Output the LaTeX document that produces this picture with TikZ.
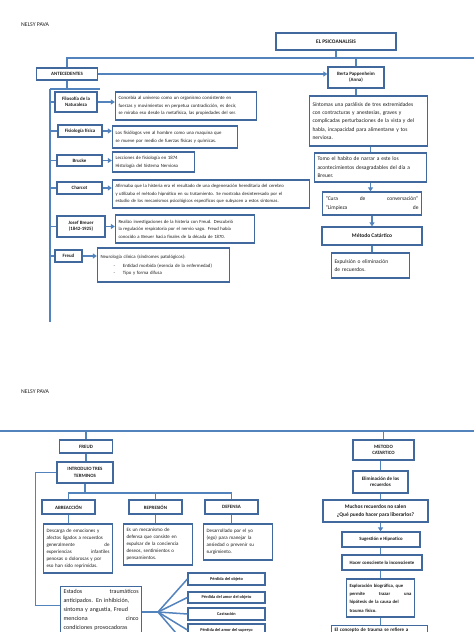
\documentclass[tikz,border=0pt]{standalone}
\usepackage{fontspec}
\setmainfont{Carlito}
\usetikzlibrary{arrows.meta}
\definecolor{bxc}{HTML}{41699E}
\definecolor{lnc}{HTML}{5383BD}
\definecolor{txc}{HTML}{1E1E1E}
\newcommand\jl[1]{\makebox[\hsize][s]{#1}}
\begin{document}
\begin{tikzpicture}[x=1pt,y=-1pt,
  lbox/.style={draw=bxc, line width=1.2pt, fill=white, text=txc,
    font=\fontsize{4.9}{6.2}\selectfont\bfseries, align=center, inner sep=1pt},
  pbox/.style={draw=bxc, line width=1.2pt, fill=white, text=txc, align=left,
    inner xsep=3pt, inner ysep=2pt},
  conn/.style={draw=lnc, line width=1.5pt},
  arr/.style={conn, -{Triangle[width=5pt,length=4pt]}},
  hdr/.style={anchor=west, text=txc, font=\fontsize{5.8}{7}\selectfont, inner sep=0pt}]
\useasboundingbox (0,0) rectangle (474,632);
\fill[white] (0,0) rectangle (474,632);

%================ TOP PAGE =================
\node[hdr] (nelsyA) at (21,25) {NELSY PAVA};

\node[lbox, minimum width=120, minimum height=17, font=\fontsize{5.4}{6.5}\selectfont\bfseries] (psico) at (336,41.5) {EL PSICOANALISIS};
\node[lbox, minimum width=61, minimum height=12] (ante) at (67,74) {ANTECEDENTES};
\node[lbox, minimum width=56, minimum height=21] (berta) at (356,77.5) {Berta Pappenheim\\(Anna)};

\coordinate (topR) at (474,58);
\draw[conn] (psico.south) -- (psico.south |- topR);
\draw[conn] (ante.north) |- (topR);
\draw[conn] (berta.north) -- (berta.north |- topR);
\draw[arr] (ante.east) -- (ante.east -| berta.west);

% left column labels
\node[lbox, minimum width=42, minimum height=20] (filo) at (76,102) {Filosofía de la\\Naturaleza};
\node[lbox, minimum width=44, minimum height=12] (fisio) at (80,131) {Fisiología física};
\node[lbox, minimum width=45, minimum height=11] (brucke) at (79.5,160.5) {Brucke};
\node[lbox, minimum width=45, minimum height=12] (charcot) at (79.5,188) {Charcot};
\node[lbox, minimum width=48, minimum height=21] (breuer) at (81,226.5) {Josef Breuer\\(1842-1925)};
\node[lbox, minimum width=27, minimum height=12] (freudA) at (68.5,256) {Freud};

% trunk
\coordinate (tr1) at (50,89);
\coordinate (stub) at (100,89);
\coordinate (tr2) at (50,322);
\draw[conn] (ante.south) -- (ante.south |- tr1);
\draw[conn] (tr1) -- (stub);
\draw[conn] (tr1) -- (tr2);
\foreach \n in {filo,fisio,brucke,charcot,breuer,freudA}
  \draw[conn] (\n.west -| tr1) -- (\n.west);

% left column texts
\node[pbox, text width=135, minimum height=28, font=\fontsize{4.8}{7.6}\selectfont] (tfilo) at (186,106)
 {\jl{Concebía al universo como un organismo consistente en}\\
  \jl{fuerzas y movimientos en perpetua contradicción, es decir,}\\
  \jl{se miraba eso desde la metafísica, las propiedades del ser.}};
\node[pbox, text width=119, minimum height=22, font=\fontsize{4.8}{7.6}\selectfont] (tfisio) at (175,137)
 {\jl{Los fisiólogos ven al hombre como una maquina que}\\
  se mueve por medio de fuerzas físicas y químicas.};
\node[pbox, text width=76, minimum height=20, font=\fontsize{4.8}{7.6}\selectfont] (tbrucke) at (153.5,162)
 {Lecciones de fisiología en 1874\\Histología del Sistema Nervioso};
\node[pbox, text width=191, minimum height=28, font=\fontsize{4.7}{7.6}\selectfont] (tcharcot) at (211,194)
 {\jl{Afirmaba que la histeria era el resultado de una degeneración hereditaria del cerebro}\\
  \jl{y utilizaba el método hipnótico en su tratamiento. Se mostraba desinteresado por el}\\
  estudio de los mecanismos psicológicos específicos que subyacen a estos síntomas.};
\node[pbox, text width=133, minimum height=28, font=\fontsize{4.7}{7.6}\selectfont] (tbreuer) at (185,229)
 {\jl{Realizo investigaciones de la histeria con Freud. Descubrió}\\
  \jl{la regulación respiratoria por el nervio vago. Freud había}\\
  conocido a Breuer hacia finales de la década de 1870.};
\node[pbox, text width=126, minimum height=34, font=\fontsize{4.8}{7.2}\selectfont] (tfreud) at (163.5,265)
 {Neurología clínica (síndromes patológicos):\\[1.5pt]
  \hspace*{13pt}-\hspace*{8pt}Entidad morbida (esencia de la enfermedad)\\
  \hspace*{13pt}-\hspace*{8pt}Tipo y forma difusa};

\foreach \a/\b in {filo/tfilo,fisio/tfisio,brucke/tbrucke,charcot/tcharcot,breuer/tbreuer,freudA/tfreud}
  \draw[arr] (\a.east) -- (\a.east -| \b.west);

% right column
\node[pbox, text width=112, minimum height=50, font=\fontsize{5.5}{8.4}\selectfont] (sint) at (368.5,121)
 {\jl{Síntomas una parálisis de tres extremidades}\\
  \jl{con contracturas y anestesias, graves y}\\
  \jl{complicadas perturbaciones de la vista y del}\\
  \jl{habla, incapacidad para alimentarse y tos}\\
  nerviosa.};
\node[pbox, text width=106, minimum height=29, font=\fontsize{5.5}{8.4}\selectfont] (tomo) at (370.5,167.5)
 {\jl{Tomo el habito de narrar a este los}\\
  \jl{acontecimientos desagradables del día a}\\
  Breuer.};
\node[pbox, text width=93, minimum height=23, font=\fontsize{5.5}{8.4}\selectfont] (cura) at (372,203.5)
 {“Cura\hfill de\hfill conversación”\\
  “Limpieza\hfill de};
\node[lbox, minimum width=100, minimum height=18, font=\fontsize{5.5}{7}\selectfont\bfseries] (metodo) at (372,236) {Método Catártico};
\node[pbox, text width=72, minimum height=25, font=\fontsize{5.5}{8.4}\selectfont] (expul) at (370.5,265.5)
 {\jl{Expulsión o eliminación}\\
  de recuerdos.};

\draw[conn] (berta.south) -- (berta.south |- sint.north);
\draw[conn] (sint.south -| tomo.north) -- (tomo.north);
\draw[arr] (tomo.south) -- (tomo.south |- cura.north);
\draw[arr] (cura.south) -- (metodo.north);
\draw[conn] (metodo.south) -- (metodo.south |- expul.north);

%================ BOTTOM PAGE =================
\node[hdr] (nelsyB) at (21,392) {NELSY PAVA};
\coordinate (botL) at (0,431);
\coordinate (botR) at (474,431);
\draw[conn] (botL) -- (botR);

\node[lbox, minimum width=53, minimum height=13] (freudB) at (86,446.5) {FREUD};
\node[lbox, minimum width=61, minimum height=20] (metodoB) at (383.5,450) {METODO\\CATARTICO};
\draw[conn] (freudB.north |- botL) -- (freudB.north);
\draw[conn] (metodoB.north |- botL) -- (metodoB.north);

\node[lbox, minimum width=56, minimum height=21] (intro) at (85,472.5) {INTRODUJO TRES\\TERMINOS};
\draw[conn] (freudB.south) -- (freudB.south |- intro.north);

\node[lbox, minimum width=53, minimum height=14] (abre) at (68.5,507) {ABREACCIÓN};
\node[lbox, minimum width=53, minimum height=14] (repre) at (155.5,507) {REPRESIÓN};
\node[lbox, minimum width=53, minimum height=14] (defe) at (231.5,507) {DEFENSA};
\coordinate (bus) at (85,493);
\draw[conn] (intro.south) -- (bus);
\draw[conn] (abre.north) |- (bus) -| (defe.north);
\draw[conn] (repre.north) -- (repre.north |- bus);

\node[pbox, text width=63, minimum height=49, font=\fontsize{5}{7}\selectfont] (tabre) at (78,548.5)
 {\jl{Descarga de emociones y}\\
  \jl{afectos ligados a recuerdos}\\
  \jl{generalmente\hfill de}\\
  \jl{experiencias\hfill infantiles}\\
  \jl{penosas o dolorosas y por}\\
  eso han sido reprimidas.};
\node[pbox, text width=63, minimum height=41, font=\fontsize{5}{7}\selectfont] (trepre) at (158,544.5)
 {\jl{Es un mecanismo de}\\
  \jl{defensa que consiste en}\\
  \jl{expulsar de la conciencia}\\
  \jl{deseos, sentimientos o}\\
  pensamientos.};
\node[pbox, text width=63, minimum height=36, font=\fontsize{5}{7}\selectfont] (tdefe) at (238,542)
 {\jl{Desarrollado por el yo}\\
  \jl{(ego) para manejar la}\\
  \jl{ansiedad o prevenir su}\\
  surgimiento.};
\draw[conn] (abre.south) -- (abre.south |- tabre.north);
\draw[conn] (repre.south) -- (repre.south |- trepre.north);
\draw[conn] (defe.south) -- (defe.south |- tdefe.north);

\node[pbox, anchor=north west, text width=75, inner ysep=3pt, font=\fontsize{6}{9}\selectfont] (estados) at (60,586)
 {\jl{Estados\hfill traumáticos}\\
  \jl{anticipados. En inhibición,}\\
  \jl{síntoma y angustia, Freud}\\
  \jl{menciona\hfill cinco}\\
  \jl{condiciones provocadoras}\\
  \strut};
\draw[conn] (intro.west) -- ++(-21,0) |- ([yshift=10pt]estados.west);

\coordinate (fan) at (158,612);
\node[lbox, minimum width=77, minimum height=12, font=\fontsize{4.3}{5}\selectfont\bfseries] (perdA) at (226.5,579) {Pérdida del objeto};
\node[lbox, minimum width=77, minimum height=11, font=\fontsize{4.3}{5}\selectfont\bfseries] (perdB) at (226.5,597.5) {Pérdida del amor del objeto};
\node[lbox, minimum width=77, minimum height=12, font=\fontsize{4.3}{5}\selectfont\bfseries] (cast) at (226.5,614) {Castración};
\node[lbox, minimum width=77, minimum height=12, font=\fontsize{4.3}{5}\selectfont\bfseries] (perdD) at (226.5,630) {Pérdida del amor del superyo};
\coordinate (fifth) at (182,640);
\draw[conn] (estados.east |- fan) -- (fan);
\foreach \n in {perdA,perdB,cast,perdD}
  \draw[conn] (fan) -- (\n.west);
\draw[conn] (fan) -- (fifth);

% right column bottom
\node[lbox, minimum width=55, minimum height=22, font=\fontsize{5}{6.5}\selectfont\bfseries] (elim) at (380.5,482) {Eliminación de los\\recuerdos};
\node[lbox, minimum width=105, minimum height=22, font=\fontsize{5.4}{7.5}\selectfont\bfseries] (muchos) at (375.5,511) {Muchos recuerdos no salen\\¿Qué puedo hacer para liberarlos?};
\node[lbox, minimum width=78, minimum height=15, font=\fontsize{4.8}{6}\selectfont\bfseries] (suge) at (381,539.5) {Sugestión e Hipnotico};
\node[lbox, minimum width=80, minimum height=15, font=\fontsize{4.8}{6}\selectfont\bfseries] (hacer) at (382,562.5) {Hacer consciente lo inconsciente};
\node[pbox, text width=62, minimum height=38, font=\fontsize{4.7}{8.3}\selectfont\bfseries] (explo) at (380.5,598)
 {\jl{Exploración biográfica, que}\\
  \jl{permite\hfill trazar\hfill una}\\
  \jl{hipótesis de la causa del}\\
  trauma físico.};
\node[pbox, anchor=north west, text width=90, inner ysep=2.5pt, font=\fontsize{5}{7}\selectfont\bfseries] (concepto) at (331,625)
 {El concepto de trauma se refiere a\\ \strut};

\draw[conn] (metodoB.south -| elim.north) -- (elim.north);
\draw[conn] (elim.south) -- (elim.south |- muchos.north);
\draw[arr] (elim.south |- muchos.south) -- (elim.south |- suge.north);
\draw[conn] (elim.south |- suge.south) -- (elim.south |- hacer.north);
\draw[conn] (elim.south |- hacer.south) -- (elim.south |- explo.north);
\draw[conn] (elim.south |- explo.south) -- (elim.south |- concepto.north);
\end{tikzpicture}
\end{document}
